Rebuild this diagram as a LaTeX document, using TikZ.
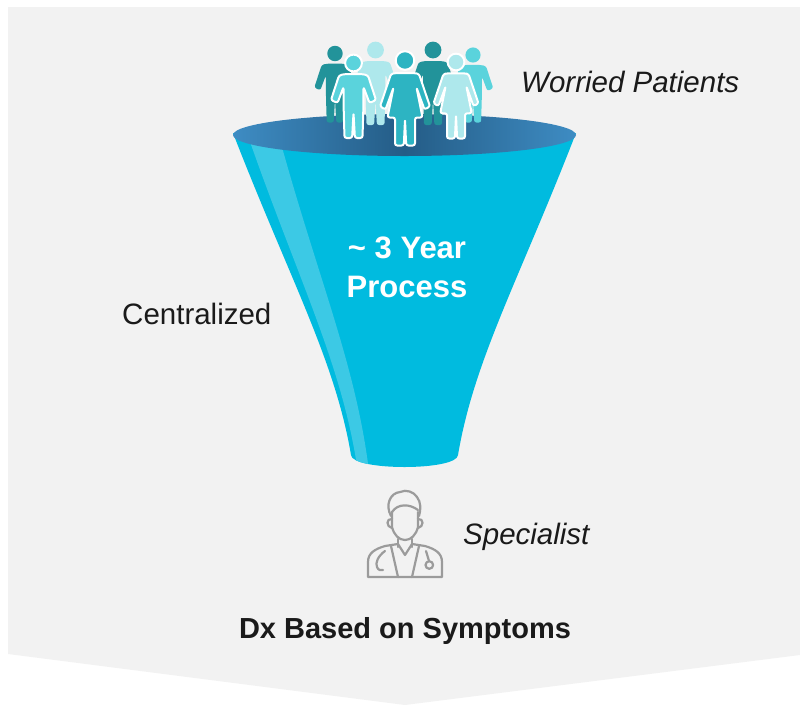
\documentclass[tikz,border=0pt]{standalone}
\usepackage{fontspec}
\setmainfont{Liberation Sans}
\definecolor{bg}{HTML}{F2F2F2}
\definecolor{funnel}{HTML}{00BBDF}
\definecolor{stripe}{HTML}{3CC9E5}
\definecolor{rimdark}{HTML}{245C86}
\definecolor{rimlight}{HTML}{3E8CC3}
\definecolor{tealp}{HTML}{22939A}
\definecolor{palep}{HTML}{AEE8EC}
\definecolor{aquap}{HTML}{5AD3DC}
\definecolor{midp}{HTML}{2DB4C2}
\definecolor{txt}{HTML}{1A1A1A}
\definecolor{icongray}{HTML}{9B9B9B}
\tikzset{
  lbl/.style={inner sep=0pt, text=txt, font=\fontsize{29.5}{35}\selectfont},
  frontfig/.style={draw=white, line width=2pt, line join=round},
  docline/.style={draw=icongray, line width=2.2pt, line cap=round, line join=round},
}
\newcommand\manfig[5][]{%
  \begin{scope}[shift={(#2,#3)},scale=#4]
    \filldraw[fill=#5,draw=none,#1] (0,0) circle[radius=8.4];
    \filldraw[fill=#5,draw=none,#1,rounded corners=2.2pt]
      (-9,11) -- (9,11) -- (14.5,12.5) -- (22.5,37) -- (16,40) -- (10,24)
      -- (9.8,47) -- (9,75) -- (1.4,75) -- (0,50) -- (-1.4,75) -- (-9,75)
      -- (-9.8,47) -- (-10,24) -- (-16,40) -- (-22.5,37) -- (-14.5,12.5) -- cycle;
  \end{scope}}
\newcommand\womanfig[5][]{%
  \begin{scope}[shift={(#2,#3)},scale=#4]
    \filldraw[fill=#5,draw=none,#1] (0,0) circle[radius=9.3];
    \filldraw[fill=#5,draw=none,#1,rounded corners=2.2pt]
      (-10,12.5) -- (10,12.5) -- (14,13.5) -- (25,46) -- (19.5,49) -- (11.5,27)
      -- (17.5,57) -- (10,57) -- (10,85) -- (1.2,85) -- (0,59) -- (-1.2,85)
      -- (-10,85) -- (-10,57) -- (-17.5,57) -- (-11.5,27) -- (-19.5,49)
      -- (-25,46) -- (-14,13.5) -- cycle;
  \end{scope}}
\begin{document}
\begin{tikzpicture}[x=1pt,y=-1pt]
\useasboundingbox (0,0) rectangle (800,705);
% background panel
\fill[bg] (8,7) -- (800,7) -- (800,655) -- (405,705) -- (8,654) -- cycle;
% funnel body
\fill[funnel] (233,133) .. controls (290,280) and (335,360) .. (351,455)
  .. controls (352,471) and (457,471) .. (458,455)
  .. controls (474,360) and (519,280) .. (576,133) -- cycle;
\begin{scope}
  \clip (233,133) .. controls (290,280) and (335,360) .. (351,455)
    .. controls (352,471) and (457,471) .. (458,455)
    .. controls (474,360) and (519,280) .. (576,133) -- cycle;
  \fill[stripe] (248,136) .. controls (300,285) and (345,370) .. (359,480)
    -- (370,480) .. controls (358,370) and (320,285) .. (280,140) -- cycle;
\end{scope}
% funnel rim
\shade[left color=rimlight, right color=rimlight, middle color=rimdark]
  (404.5,135) ellipse[x radius=171.5, y radius=21];
% people (back row)
\manfig{335}{53.5}{0.92}{tealp}
\manfig{473}{55}{0.9}{aquap}
\manfig{375.5}{50}{1.0}{palep}
\manfig{433}{50}{1.0}{tealp}
% people (front row)
\manfig[frontfig]{353.5}{63}{1.0}{aquap}
\womanfig[frontfig]{456}{62}{0.9}{palep}
\womanfig[frontfig]{405}{60.5}{1.0}{midp}
% doctor icon
\path[docline] (392,512) -- (392,527) .. controls (394,535) and (399,540) .. (405,540)
  .. controls (411,540) and (416,535) .. (418,527) -- (418,512);
\path[docline] (392,519) .. controls (386,518) and (386,527) .. (392,528);
\path[docline] (418,519) .. controls (424,518) and (424,527) .. (418,528);
\path[docline] (391,516) .. controls (385,505) and (390,493) .. (400,492)
  .. controls (406,489) and (414,492) .. (417,497)
  .. controls (421,502) and (421,510) .. (419,516);
\path[docline] (392,512) .. controls (398,503) and (410,504) .. (418,510);
\path[docline] (398,539) -- (398,547);
\path[docline] (412,539) -- (412,547);
\path[docline] (368,577) -- (368,562) .. controls (368,553) and (375,549) .. (385,546)
  -- (398,544) -- (405,555) -- (412,544) -- (425,546)
  .. controls (435,549) and (442,553) .. (442,562) -- (442,577) -- cycle;
\path[docline] (391,546) -- (398,577);
\path[docline] (419,546) -- (412,577);
\path[docline] (385,551) .. controls (378,556) and (375,563) .. (377,567)
  .. controls (378,570) and (381,571) .. (383,570);
\path[docline] (426,551) -- (429,561);
\path[docline] (429.3,565) circle[radius=3.8];
% labels
\node[lbl, anchor=base west, font=\fontsize{29.5}{35}\selectfont\itshape] (worried) at (521,92) {Worried Patients};
\node[lbl, anchor=base west] (central) at (122,324) {Centralized};
\node[lbl, anchor=base west, font=\fontsize{29.5}{35}\selectfont\itshape] (spec) at (463,544) {Specialist};
\node[inner sep=0pt, text=white, align=center, font=\bfseries\fontsize{31}{39}\selectfont] (process) at (407,267) {\textasciitilde{} 3 Year\\Process};
\node[lbl, anchor=base, font=\bfseries\fontsize{29}{35}\selectfont] (dx) at (405,638) {Dx Based on Symptoms};
\end{tikzpicture}
\end{document}
